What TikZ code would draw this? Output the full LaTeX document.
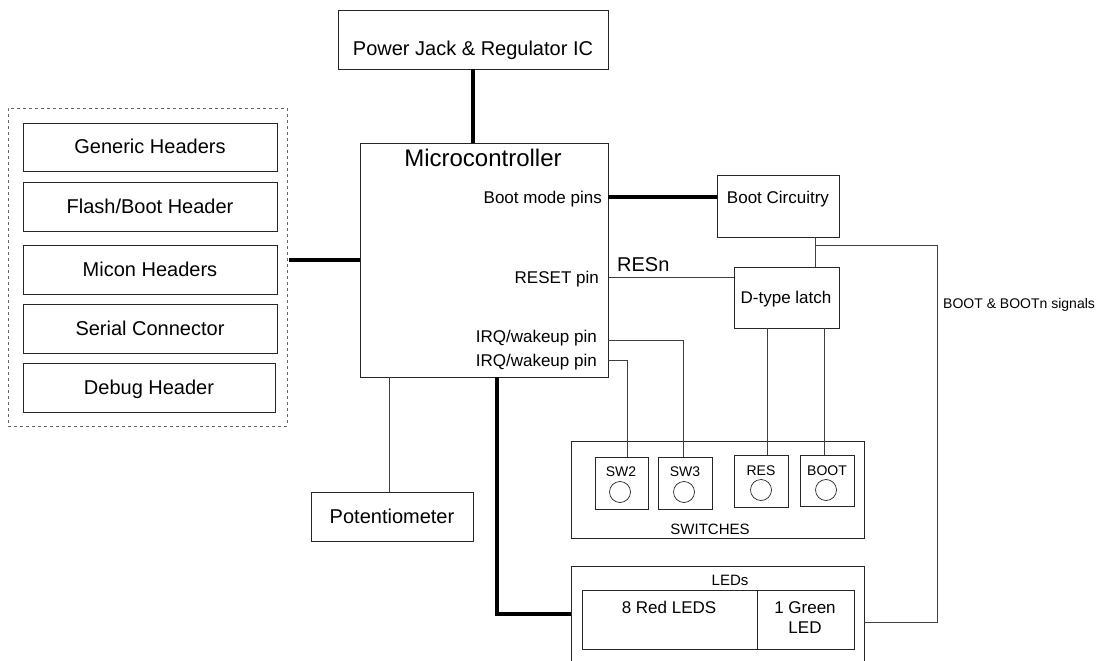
\documentclass[tikz,border=0pt]{standalone}
\usepackage{fontspec}
\setmainfont{Liberation Sans}
\usetikzlibrary{fit,calc}
\newcommand{\fsz}[1]{\fontsize{#1}{#1}\selectfont}

\begin{document}
\begin{tikzpicture}[x=1pt, y=-1pt,
    blk/.style={draw=black!85, line width=0.8pt, inner sep=0pt},
    grp/.style={draw=black!60, line width=0.8pt, dashed, inner sep=0pt},
    bus/.style={line width=3.6pt},
    wire/.style={draw=black!75, line width=0.8pt},
    big/.style={font=\fsz{20}, inner sep=0pt},
    mid/.style={font=\fsz{17}, inner sep=0pt},
    sml/.style={font=\fsz{14}, inner sep=0pt},
    btn/.style={circle, draw=black!85, line width=0.7pt, minimum size=21pt, inner sep=0pt}]
  \useasboundingbox (0,0) rectangle (1098,661);

  %% Header group (dashed) on the left
  \node[grp, fit={(8,108) (287,426)}] (hdrs) {};
  \node[blk, fit={(23,123) (277,171)}] (genhdr) {};
  \node[blk, fit={(23,182) (277,231)}] (flashhdr) {};
  \node[blk, fit={(23,245) (277,294)}] (miconhdr) {};
  \node[blk, fit={(23,304) (277,353)}] (serial) {};
  \node[blk, fit={(23,363) (275,412)}] (debug) {};
  \node[big, anchor=base] at (150,153) {Generic Headers};
  \node[big, anchor=base] at (150,213) {Flash/Boot Header};
  \node[big, anchor=base] at (150,276) {Micon Headers};
  \node[big, anchor=base] at (150,335) {Serial Connector};
  \node[big, anchor=base] at (149,394) {Debug Header};

  %% Power supply
  \node[blk, fit={(338,10) (608,69)}] (power) {};
  \node[big, anchor=base] at (473,56) {Power Jack \& Regulator IC};

  %% Microcontroller and its pins
  \node[blk, fit={(360,143) (608,377)}] (mcu) {};
  \node[font=\fsz{24}, inner sep=0pt, anchor=base] at (483,166) {Microcontroller};
  \node[mid, anchor=base east] at (602,203) {Boot mode pins};
  \node[mid, anchor=base east] at (599,283) {RESET pin};
  \node[mid, anchor=base east] at (597,342) {IRQ/wakeup pin};
  \node[mid, anchor=base east] at (597,366) {IRQ/wakeup pin};
  \coordinate (bootpin) at (608,197);
  \coordinate (rstpin)  at (609,277);
  \coordinate (irqa)    at (608,340);
  \coordinate (irqb)    at (608,360);

  %% Boot circuitry and latch
  \node[blk, fit={(717,175) (839,237)}] (bootcct) {};
  \node[mid, anchor=base] at (778,203) {Boot Circuitry};
  \node[blk, fit={(734,267) (839,328)}] (latch) {};
  \node[mid, anchor=base] at (786,303) {D-type latch};
  \node[big, anchor=base west] at (617,271) {RESn};
  \node[sml, anchor=base west] at (943,308) {BOOT \& BOOTn signals};

  %% Potentiometer
  \node[blk, fit={(311,492) (473,541)}] (pot) {};
  \node[big, anchor=base] at (392,523) {Potentiometer};

  %% Switches
  \node[blk, fit={(571,441) (864,538)}] (switches) {};
  \node[blk, fit={(595,457) (648,509)}] (sw2) {};
  \node[blk, fit={(658,457) (712,509)}] (sw3) {};
  \node[blk, fit={(734,455) (788,507)}] (swres) {};
  \node[blk, fit={(800,455) (854,506)}] (swboot) {};
  \node[sml, anchor=base] at (621,476) {SW2};
  \node[sml, anchor=base] at (685,476) {SW3};
  \node[sml, anchor=base] at (761,475) {RES};
  \node[sml, anchor=base] at (827,475) {BOOT};
  \node[btn] (sw2b)    at (620,492) {};
  \node[btn] (sw3b)    at (684,492) {};
  \node[btn] (swresb)  at (761,490) {};
  \node[btn] (swbootb) at (826,490) {};
  \node[font=\fsz{15}, inner sep=0pt, anchor=base] at (710,534) {SWITCHES};

  %% LEDs
  \node[blk, fit={(571,566) (864,680)}] (leds) {};
  \node[font=\fsz{15}, inner sep=0pt, anchor=base] at (730,585) {LEDs};
  \node[blk, fit={(582,590) (757,649)}] (redleds) {};
  \node[blk, fit={(757,590) (854,649)}] (greenled) {};
  \node[mid, anchor=base] at (669,613) {8 Red LEDS};
  \node[mid, anchor=base] at (805,613) {1 Green};
  \node[mid, anchor=base] at (805,633) {LED};

  %% Buses (thick)
  \draw[bus] (power.south) -- (power.south |- mcu.north);
  \draw[bus] (289,0 |- mcu.west) -- (mcu.west);
  \draw[bus] (bootpin) -- (bootpin -| bootcct.west);
  \draw[bus] (497,0 |- mcu.south) |- (leds.west |- 0,614);

  %% Signal wires (thin)
  \draw[wire] (rstpin) -- (rstpin -| latch.west);
  \draw[wire] (irqa) -| (683,0 |- sw3.north);
  \draw[wire] (irqb) -| (627,0 |- sw2.north);
  \draw[wire] (389,0 |- mcu.south) -- (389,0 |- pot.north);
  \draw[wire] (815,0 |- bootcct.south) -- (815,0 |- latch.north);
  \draw[wire] (767,0 |- latch.south) -- (767,0 |- swres.north);
  \draw[wire] (824,0 |- latch.south) -- (824,0 |- swboot.north);
  \draw[wire] (815,245) -| (937,622) -- (leds.east |- 0,622);
\end{tikzpicture}
\end{document}
